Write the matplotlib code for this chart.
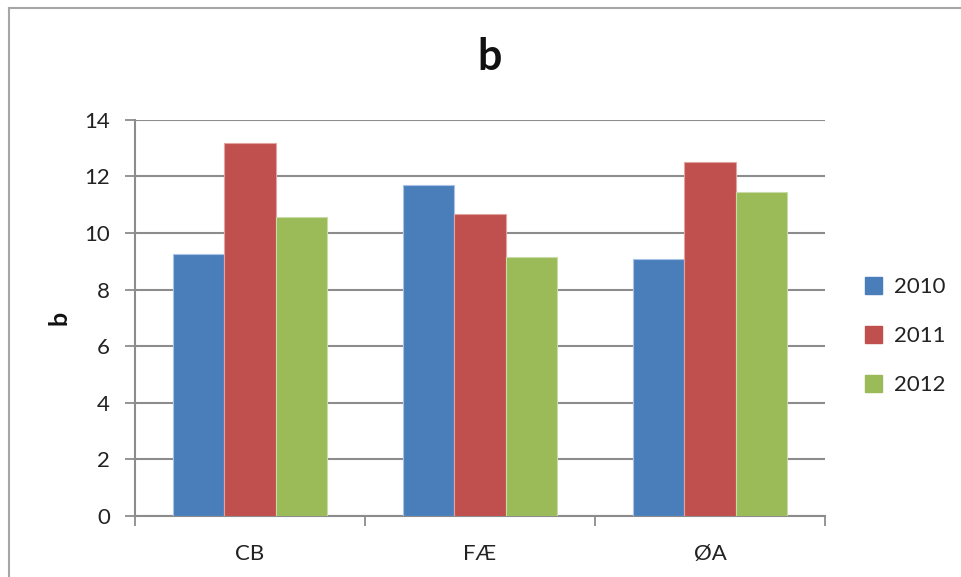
import matplotlib
matplotlib.use("Agg")
import matplotlib.pyplot as plt
from matplotlib.lines import Line2D
from matplotlib.patches import Patch
import numpy as np

plt.rcParams['font.family'] = ['Lato', 'DejaVu Sans']

categories = ["CB", "FÆ", "ØA"]
years = ["2010", "2011", "2012"]
values_2010 = [9.26, 11.70, 9.07]
values_2011 = [13.16, 10.68, 12.50]
values_2012 = [10.55, 9.16, 11.44]
series = [values_2010, values_2011, values_2012]
colors = ["#4A7EBB", "#C0504D", "#9BBB59"]
edges = ["#A9C3E6", "#E3A3A1", "#C9DBA6"]
y_ticks = [0, 2, 4, 6, 8, 10, 12, 14]

fig = plt.figure(figsize=(9.62, 5.77), dpi=100)
ax = fig.add_axes([135/962, 1 - 516/577, (825 - 135)/962, (516 - 119.7)/577])

x = np.arange(len(categories))
bar_w = 1 / 4.5
for i, (vals, c, ec) in enumerate(zip(series, colors, edges)):
    ax.bar(x + (i - 1) * bar_w, vals, width=bar_w, color=c,
           edgecolor=ec, linewidth=0.8, label=years[i], zorder=3)

grid_color = "#8C8C8C"
ax.set_ylim(0, 14)
ax.set_yticks(y_ticks)
ax.set_yticklabels([str(t) for t in y_ticks])
ax.yaxis.grid(True, color=grid_color, linewidth=1.5, zorder=0)
ax.set_xlim(-0.5, 2.5)
ax.set_xticks([-0.5, 0.5, 1.5, 2.5])
ax.set_xticklabels([])
ax.set_xticks(x, minor=True)
ax.set_xticklabels(categories, minor=True)
ax.tick_params(axis='x', which='minor', length=0, pad=20, labelsize=16, colors="#222222")
ax.tick_params(axis='x', which='major', length=7, width=1.3, color=grid_color)
ax.tick_params(axis='y', length=7, width=1.3, color=grid_color, labelsize=16,
               labelcolor="#222222", pad=11)

for side in ("top", "right"):
    ax.spines[side].set_visible(False)
for side in ("left", "bottom"):
    ax.spines[side].set_color(grid_color)
    ax.spines[side].set_linewidth(1.5)

ax.set_ylabel("b", fontsize=18, fontweight="bold", labelpad=10, color="#111111")
fig.text(490/962, 1 - 57/577, "b", ha="center", va="center", fontsize=31,
         fontweight="bold", color="#111111")

handles = [Patch(facecolor=c, edgecolor=c) for c in colors]
leg = fig.legend(handles, years, loc="center left", bbox_to_anchor=(858/962, 1 - 336/577),
                 frameon=False, fontsize=16, handlelength=0.8, handleheight=0.8,
                 handletextpad=0.5, labelspacing=1.3, borderaxespad=0, borderpad=0.3)
for t in leg.get_texts():
    t.set_color("#222222")

# Outer frame along the top and left edges
fig.add_artist(Line2D([9/962, 1], [1 - 8/577, 1 - 8/577], color="#A6A6A6", linewidth=1.5,
                      transform=fig.transFigure))
fig.add_artist(Line2D([9/962, 9/962], [0, 1 - 8/577], color="#A6A6A6", linewidth=1.5,
                      transform=fig.transFigure))

fig.savefig("out.png", dpi=100)
